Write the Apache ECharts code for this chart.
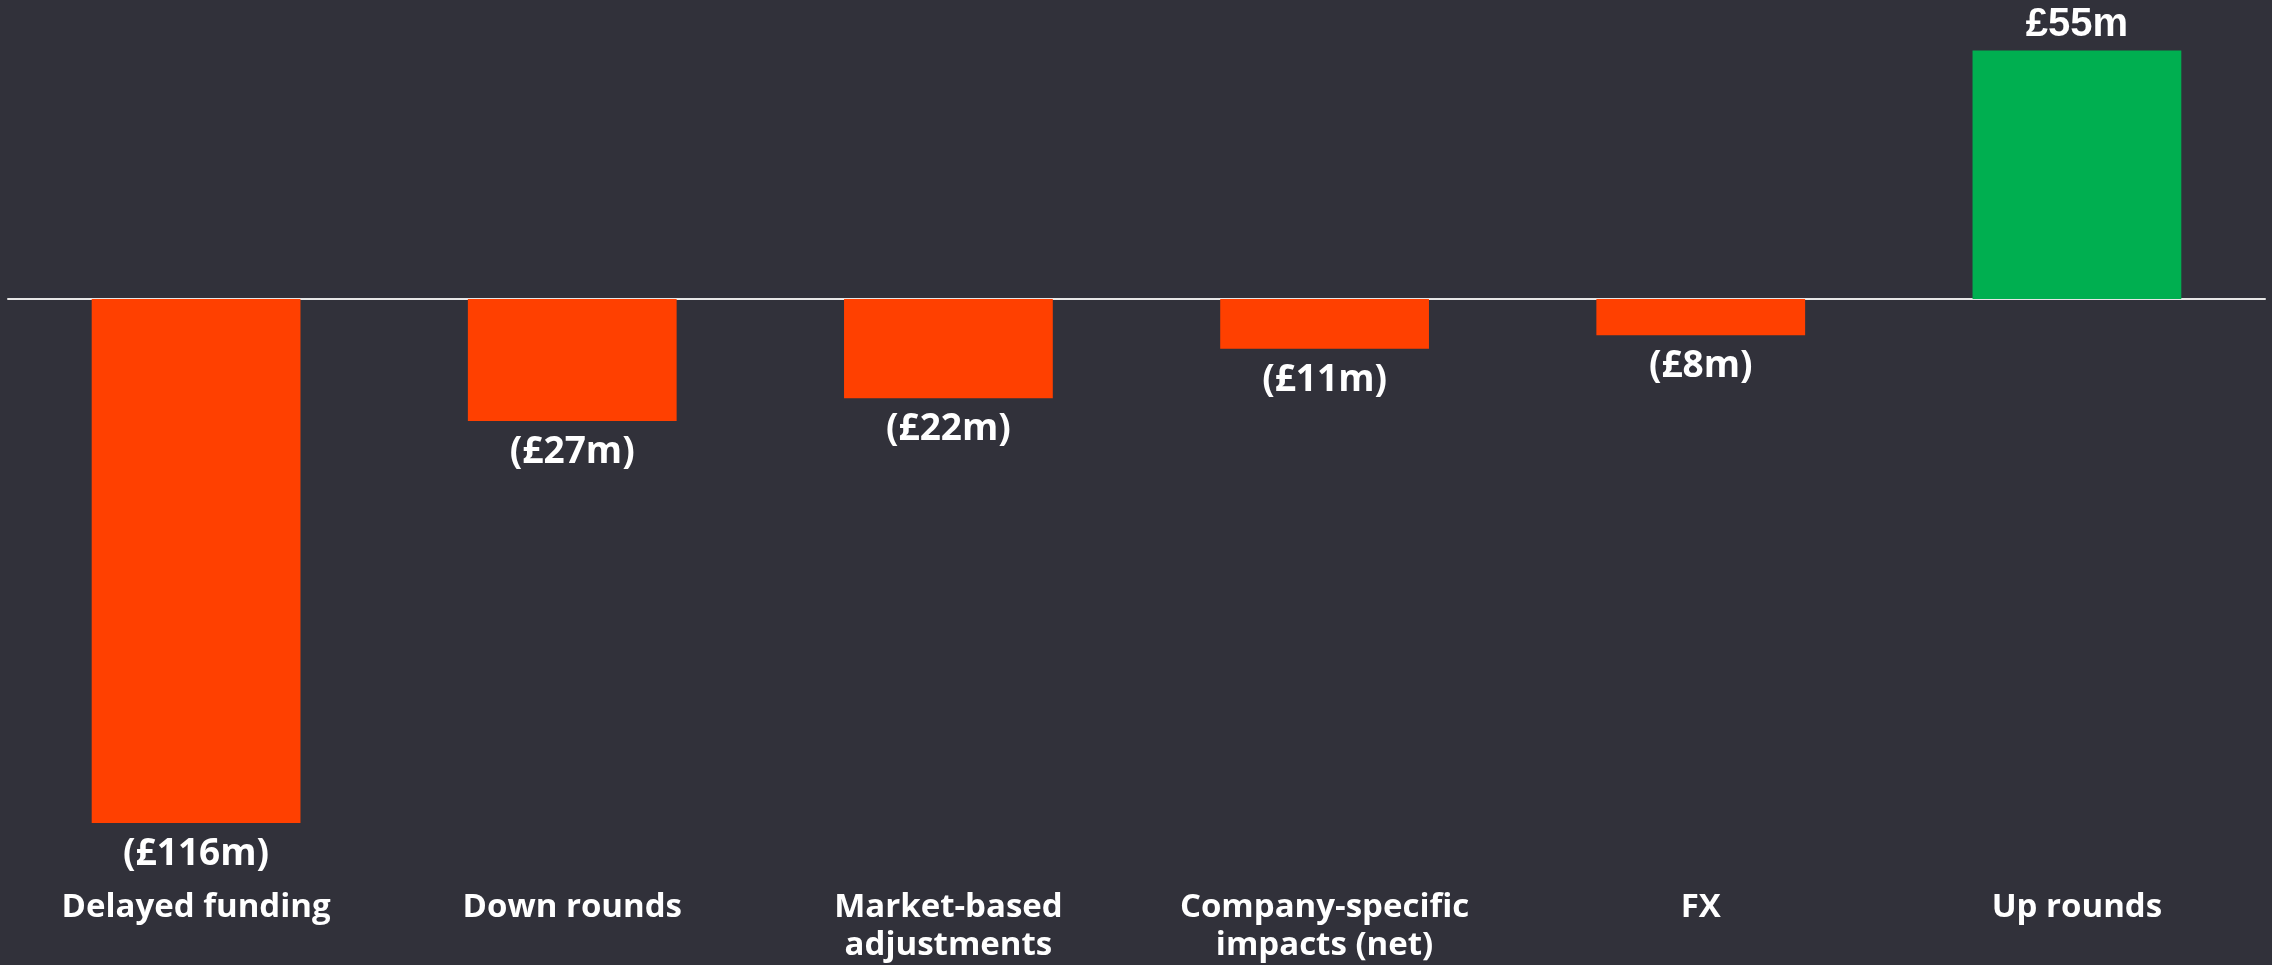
<!DOCTYPE html>
<html>
<head>
<meta charset="utf-8">
<script src="https://cdn.jsdelivr.net/npm/echarts@6/dist/echarts.min.js"></script>
<style>
  html, body { margin: 0; padding: 0; background: #31313a; }
  #chart { width: 2272px; height: 965px; }
</style>
</head>
<body>
<div id="chart"></div>
<script>
// categories shown under the bars
var categories = ['Delayed funding', 'Down rounds', 'Market-based\nadjustments', 'Company-specific\nimpacts (net)', 'FX', 'Up rounds']
// value change, £m
var values = [-116, -27, -22, -11, -8, 55]

var red = '#ff4000'
var green = '#00af50'

function fmt(v) {
  return v < 0 ? '(£' + Math.abs(v) + 'm)' : '£' + v + 'm'
}

var chart = echarts.init(document.getElementById('chart'))

chart.setOption({
  backgroundColor: '#31313a',
  animation: false,
  grid: {
    left: 8,
    right: 7,
    top: 28,
    bottom: 121
  },
  xAxis: [{
    type: 'category',
    data: categories,
    position: 'bottom',
    axisLine: { onZero: true, lineStyle: { color: '#e6e6e6', width: 2 } },
    axisTick: { show: false },
    axisLabel: { show: false }
  }, {
    type: 'category',
    data: categories,
    position: 'bottom',
    axisLine: { show: false, onZero: false },
    axisTick: { show: false },
    axisLabel: {
      interval: 0,
      margin: 48,
      color: '#ffffff',
      fontFamily: 'Open Sans',
      fontWeight: 'bold',
      fontSize: 33,
      lineHeight: 38
    }
  }],
  yAxis: {
    type: 'value',
    min: -120,
    max: 60,
    show: false,
    splitLine: { show: false }
  },
  series: [{
    type: 'bar',
    xAxisIndex: 0,
    barWidth: '55.5%',
    data: values.map(function (v) {
      return {
        value: v,
        itemStyle: { color: v < 0 ? red : green },
        label: v < 0
          ? { position: 'bottom', distance: 13 }
          : { position: 'top', distance: 6, fontFamily: 'Liberation Sans', fontSize: 40 }
      }
    }),
    label: {
      show: true,
      color: '#ffffff',
      fontFamily: 'Open Sans',
      fontWeight: 'bold',
      fontSize: 37,
      formatter: function (p) { return fmt(p.value) }
    }
  }]
})
</script>
</body>
</html>
